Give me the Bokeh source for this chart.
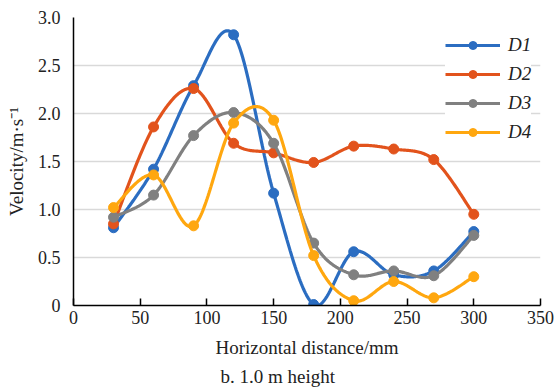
import numpy as np
from bokeh.plotting import figure
from bokeh.models import Range1d, FixedTicker, Legend, LegendItem, Title, PrintfTickFormatter
from bokeh.embed import file_html
from bokeh.resources import INLINE

x_mm = [30, 60, 90, 120, 150, 180, 210, 240, 270, 300]
d1 = [0.81, 1.42, 2.29, 2.82, 1.17, 0.01, 0.56, 0.32, 0.36, 0.77]
d2 = [0.85, 1.86, 2.26, 1.69, 1.59, 1.49, 1.66, 1.63, 1.52, 0.95]
d3 = [0.92, 1.15, 1.77, 2.01, 1.69, 0.65, 0.32, 0.36, 0.31, 0.73]
d4 = [1.02, 1.36, 0.83, 1.90, 1.93, 0.52, 0.05, 0.25, 0.08, 0.30]
names = ["D1", "D2", "D3", "D4"]
colors = ["#2B6DC1", "#E2531C", "#808080", "#FFA70F"]
x_ticks = [0, 50, 100, 150, 200, 250, 300, 350]
y_ticks = [0, 0.5, 1.0, 1.5, 2.0, 2.5, 3.0]


def smooth(xs, ys, n=40, k=6.0):
    xs = np.asarray(xs, float)
    ys = np.asarray(ys, float)
    px = np.concatenate([[xs[0]], xs, [xs[-1]]])
    py = np.concatenate([[ys[0]], ys, [ys[-1]]])
    ox, oy = [], []
    for i in range(1, len(px) - 2):
        x0, y0 = px[i], py[i]
        x3, y3 = px[i + 1], py[i + 1]
        x1 = x0 + (px[i + 1] - px[i - 1]) / k
        y1 = y0 + (py[i + 1] - py[i - 1]) / k
        x2 = x3 - (px[i + 2] - px[i]) / k
        y2 = y3 - (py[i + 2] - py[i]) / k
        t = np.linspace(0, 1, n)
        bx = (1 - t) ** 3 * x0 + 3 * (1 - t) ** 2 * t * x1 + 3 * (1 - t) * t ** 2 * x2 + t ** 3 * x3
        by = (1 - t) ** 3 * y0 + 3 * (1 - t) ** 2 * t * y1 + 3 * (1 - t) * t ** 2 * y2 + t ** 3 * y3
        ox.extend(bx.tolist())
        oy.extend(by.tolist())
    return ox, oy


p = figure(width=556, height=389, output_backend="svg", toolbar_location=None,
           x_range=Range1d(0, 350), y_range=Range1d(0, 3.0),
           min_border_left=73, min_border_right=16, min_border_top=17, min_border_bottom=84)
p.outline_line_color = None
p.background_fill_color = "white"

font = "'Liberation Serif', 'Times New Roman', serif"
for ax in (p.xaxis[0], p.yaxis[0]):
    ax.axis_line_color = "black"
    ax.axis_line_width = 1.5
    ax.major_label_text_font = font
    ax.major_label_text_font_size = "18px"
    ax.major_label_text_color = "#222222"
    ax.axis_label_text_font = font
    ax.axis_label_text_font_size = "19px"
    ax.axis_label_text_font_style = "normal"
    ax.axis_label_text_color = "#222222"
    ax.minor_tick_line_color = None

p.xaxis[0].ticker = FixedTicker(ticks=x_ticks)
p.xaxis[0].major_tick_in = 7
p.xaxis[0].major_tick_out = 0
p.xaxis[0].major_tick_line_color = "black"
p.xaxis[0].major_tick_line_width = 1.5
p.xaxis[0].major_label_standoff = 5
p.xaxis[0].axis_label = "Horizontal distance/mm"
p.xaxis[0].axis_label_standoff = 10

p.yaxis[0].ticker = FixedTicker(ticks=y_ticks)
p.yaxis[0].formatter = PrintfTickFormatter(format="%.1f")
p.yaxis[0].major_label_overrides = {0: "0"}
p.yaxis[0].major_tick_line_color = None
p.yaxis[0].major_label_standoff = 7
p.yaxis[0].axis_label = "Velocity/m·s⁻¹"
p.yaxis[0].axis_label_standoff = 8

p.xgrid.grid_line_color = None
p.ygrid.ticker = FixedTicker(ticks=y_ticks[1:])
p.ygrid.grid_line_color = "#D9D9D9"
p.ygrid.grid_line_width = 1.5

items = []
for name, ys, c in zip(names, [d1, d2, d3, d4], colors):
    sx, sy = smooth(x_mm, ys)
    ln = p.line(sx, sy, line_color=c, line_width=3.2)
    sc = p.scatter(x_mm, ys, size=10, fill_color=c, line_color=c)
    items.append(LegendItem(label=name, renderers=[ln, sc]))

legend = Legend(items=items, location=(372, 162), orientation="vertical",
                label_text_font=font, label_text_font_size="19px",
                label_text_font_style="italic", label_text_color="#222222",
                glyph_width=55, glyph_height=20, label_height=20,
                label_standoff=8, spacing=7, padding=12, margin=0,
                border_line_color=None, background_fill_color="white",
                background_fill_alpha=1.0)
p.add_layout(legend, "center")

cap = Title(text="b. 1.0 m height", align="left", offset=147, text_font=font,
            text_font_size="19px", text_font_style="normal", text_color="#222222",
            standoff=6)
p.add_layout(cap, "below")

open("out.html", "w").write(file_html(p, INLINE))
